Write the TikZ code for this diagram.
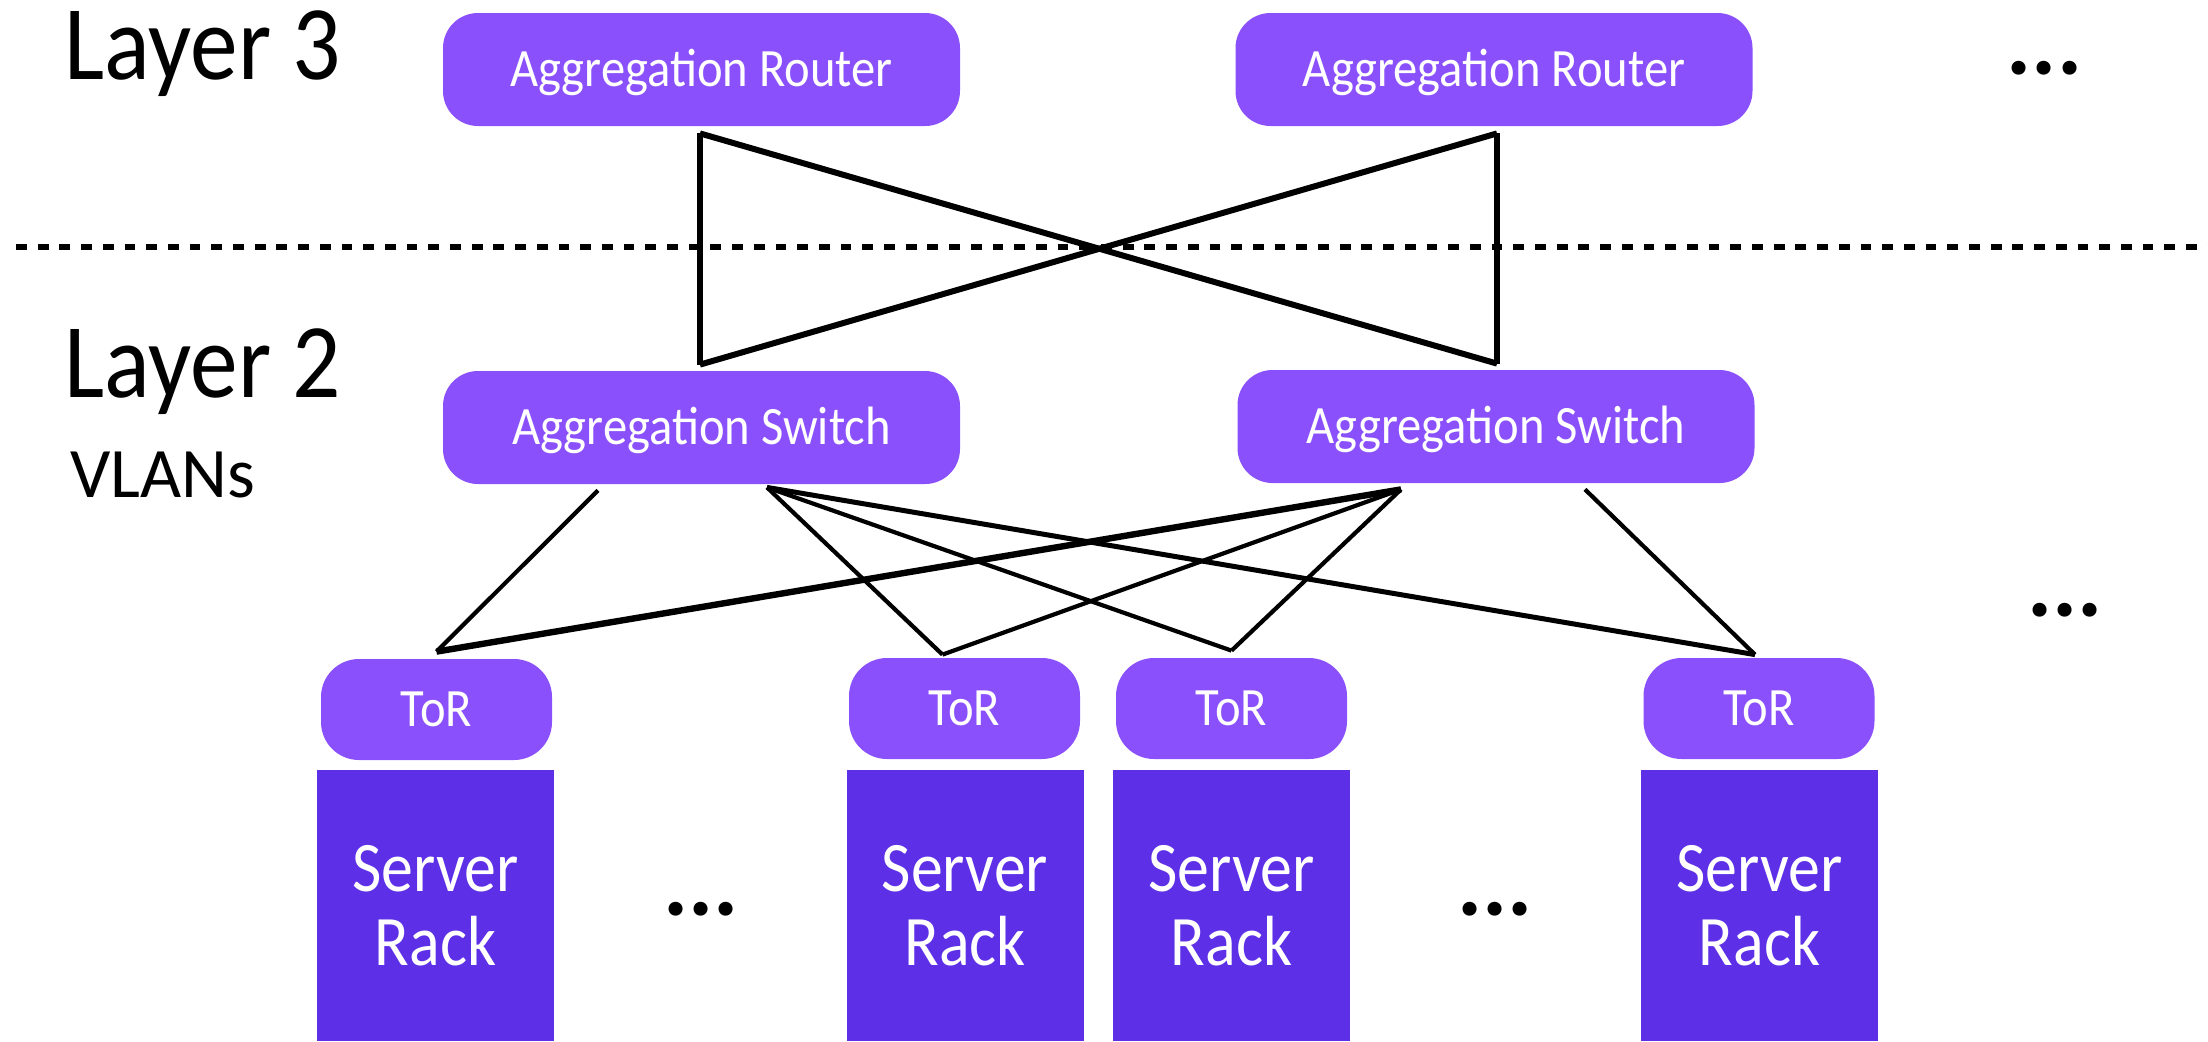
\documentclass[tikz,border=0pt]{standalone}
\usepackage{fontspec}
\setmainfont{Carlito}
\newfontfamily\narrowfont[FakeStretch=0.9]{Carlito}
\usetikzlibrary{calc}
\definecolor{boxlight}{HTML}{8A50FC}
\definecolor{boxdark}{HTML}{5D30E8}

\begin{document}
\begin{tikzpicture}[x=0.5pt,y=-0.5pt,
  device/.style={fill=boxlight, inner sep=0pt, text=white, text depth=0pt, text height=17.4pt,
    font=\narrowfont\fontsize{27}{30}\selectfont},
  aggbox/.style={device, rounded corners=17.5pt, minimum width=258.5pt, minimum height=56.5pt},
  torbox/.style={device, rounded corners=19pt, minimum width=115.5pt, minimum height=50.5pt},
  rackbox/.style={fill=boxdark, inner sep=0pt, minimum width=118.5pt, minimum height=135.5pt,
    text=white, align=center, font=\narrowfont\fontsize{35.5}{37}\selectfont},
  layerlabel/.style={anchor=base west, inner sep=0pt, font=\narrowfont\fontsize{53}{56}\selectfont},
  sublabel/.style={anchor=base west, inner sep=0pt, font=\fontsize{35.5}{38}\selectfont},
  more/.style={anchor=base, inner sep=0pt, font=\bfseries\fontsize{47}{50}\selectfont},
  uplink/.style={line width=3pt},
  link/.style={line width=2.1pt},
  midlink/.style={line width=2.5pt},
  heavylink/.style={line width=3.2pt},
  separator/.style={line width=2.75pt, dash pattern=on 5.4pt off 5.45pt}
]
\useasboundingbox (0,0) rectangle (2208,1041);

% layer separator
\coordinate (sepL) at (16,247);
\coordinate (sepR) at (2208,247);
\draw[separator] (sepL) -- (sepR);

% side labels
\node[layerlabel] (l3) at (64,79) {Layer 3};
\node[layerlabel] (l2) at (64,397) {Layer 2};
\node[sublabel] (vlan) at (70,497) {VLANs};

% aggregation routers and switches
\node[aggbox] (r1) at (701.5,69.5) {Aggregation Router};
\node[aggbox] (r2) at (1494,69.5) {Aggregation Router};
\node[aggbox] (s1) at (701.5,427.5) {Aggregation Switch};
\node[aggbox] (s2) at (1496,426.5) {Aggregation Switch};

% top-of-rack switches
\node[torbox] (t1) at (436.5,709.5) {ToR};
\node[torbox] (t2) at (964.5,708.5) {ToR};
\node[torbox] (t3) at (1231.5,708.5) {ToR};
\node[torbox] (t4) at (1759,708.5) {ToR};

% server racks
\node[rackbox] (k1) at (435.5,905.5) {Server\\Rack};
\node[rackbox] (k2) at (965,905.5) {Server\\Rack};
\node[rackbox] (k3) at (1231.5,905.5) {Server\\Rack};
\node[rackbox] (k4) at (1759.5,905.5) {Server\\Rack};

% ellipses
\node[more] (m1) at (2044.5,74) {...};
\node[more] (m2) at (2065,616) {...};
\node[more] (m3) at (701,915) {...};
\node[more] (m4) at (1495,915) {...};

% router <-> switch attachment points
\coordinate (r1p) at ($(r1.south)+(-1.5,7)$);
\coordinate (r2p) at ($(r2.south)+(3,7)$);
\coordinate (s1p) at ($(s1.north)+(-1.5,-6)$);
\coordinate (s2p) at ($(s2.north)+(1,-6)$);

\draw[uplink] (r1p) -- (s1p);
\draw[uplink] (r2p) -- (s2p);
\draw[uplink] (r1p) -- (s2p);
\draw[uplink] (r2p) -- (s1p);

% switch <-> ToR attachment points
\coordinate (s1a) at ($(s1.south)+(-103.5,6)$);
\coordinate (s1b) at ($(s1.south)+(65.5,3)$);
\coordinate (s2a) at ($(s2.south)+(-95,6)$);
\coordinate (s2b) at ($(s2.south)+(89,6)$);
\coordinate (t1p) at ($(t1.north)+(0,-7)$);
\coordinate (t2p) at ($(t2.north)+(-22,-3)$);
\coordinate (t3p) at ($(t3.north)+(0,-7)$);
\coordinate (t4p) at ($(t4.north)+(-4,-3)$);

\draw[link] (s1a) -- (t1p);
\draw[link] (s1b) -- (t2p);
\draw[link] (s1b) -- (t3p);
\draw[midlink] (s1b) -- (t4p);
\draw[heavylink] (s2a) -- (t1p);
\draw[link] (s2a) -- (t2p);
\draw[link] (s2a) -- (t3p);
\draw[link] (s2b) -- (t4p);
\end{tikzpicture}
\end{document}
